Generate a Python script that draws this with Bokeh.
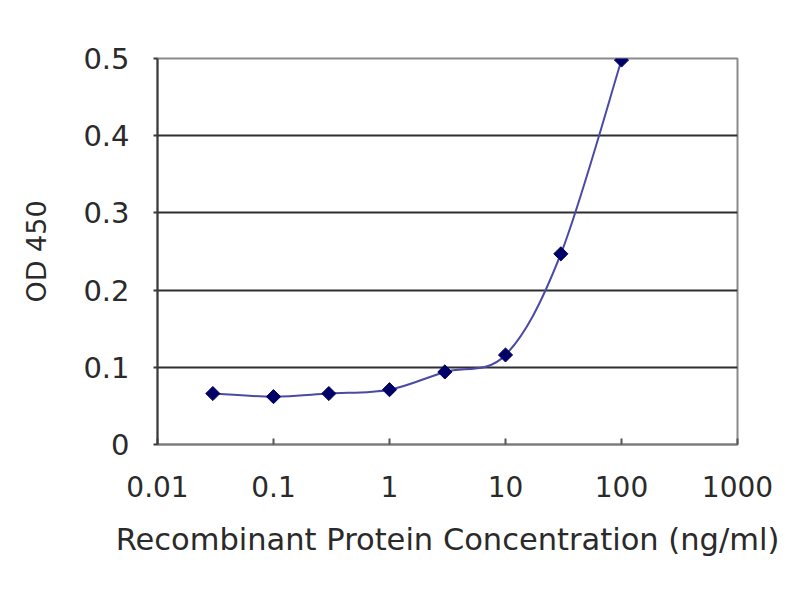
import numpy as np
from bokeh.plotting import figure
from bokeh.models import Range1d, FixedTicker, NumeralTickFormatter
from bokeh.embed import file_html
from bokeh.resources import INLINE

# data
concentration = [0.03, 0.1, 0.3, 1, 3, 10, 30, 100]
od450 = [0.066, 0.062, 0.066, 0.071, 0.094, 0.116, 0.247, 0.498]
x_ticks = [0.01, 0.1, 1, 10, 100, 1000]
y_ticks = [0, 0.1, 0.2, 0.3, 0.4, 0.5]
x_label = "Recombinant Protein Concentration (ng/ml)"
y_label = "OD 450"

FONT = "DejaVu Sans"
TEXT = "#2a2a2a"

p = figure(width=784, height=584, x_axis_type="log",
           x_range=Range1d(0.01, 1000), y_range=Range1d(0, 0.5),
           output_backend="svg", toolbar_location=None,
           frame_width=580, frame_height=386,
           min_border_left=157, min_border_right=47,
           min_border_top=58, min_border_bottom=140)
p.background_fill_color = "white"
p.border_fill_color = "white"
p.outline_line_color = "#8a8a8a"
p.outline_line_width = 2

# smooth (Excel-like) curve through the points: cubic bezier segments
lx = np.log10(np.array(concentration, dtype=float))
ly = np.array(od450, dtype=float)
n = len(lx)
x0, y0, x1, y1, cx0, cy0, cx1, cy1 = [], [], [], [], [], [], [], []
for i in range(n - 1):
    im1 = max(i - 1, 0)
    ip2 = min(i + 2, n - 1)
    x0.append(10 ** lx[i]); y0.append(ly[i])
    x1.append(10 ** lx[i + 1]); y1.append(ly[i + 1])
    cx0.append(10 ** (lx[i] + (lx[i + 1] - lx[im1]) / 6.0))
    cy0.append(ly[i] + (ly[i + 1] - ly[im1]) / 6.0)
    cx1.append(10 ** (lx[i + 1] - (lx[ip2] - lx[i]) / 6.0))
    cy1.append(ly[i + 1] - (ly[ip2] - ly[i]) / 6.0)
p.bezier(x0=x0, y0=y0, x1=x1, y1=y1, cx0=cx0, cy0=cy0, cx1=cx1, cy1=cy1,
         line_color="#4a4aa6", line_width=2)

p.scatter(concentration, od450, marker="square", size=10, angle=np.pi / 4,
          fill_color="#000066", line_color="#000066")

# axes
xa = p.xaxis[0]
xa.ticker = FixedTicker(ticks=x_ticks, minor_ticks=[])
xa.formatter = NumeralTickFormatter(format="0.[00]")
xa.axis_label = x_label
xa.axis_line_color = "#7a7a7a"
xa.axis_line_width = 2
xa.major_tick_in = 6
xa.major_tick_out = 0
xa.major_tick_line_color = "#555555"
xa.major_tick_line_width = 2
xa.minor_tick_line_color = None
xa.major_label_standoff = 31
xa.axis_label_standoff = 22
xa.major_label_text_font = FONT
xa.major_label_text_font_size = "28px"
xa.major_label_text_color = TEXT
xa.axis_label_text_font = FONT
xa.axis_label_text_font_size = "30.5px"
xa.axis_label_text_font_style = "normal"
xa.axis_label_text_color = TEXT

ya = p.yaxis[0]
ya.ticker = FixedTicker(ticks=y_ticks, minor_ticks=[])
ya.formatter = NumeralTickFormatter(format="0.[0]")
ya.axis_label = y_label
ya.axis_line_color = "#3a3a3a"
ya.axis_line_width = 2
ya.major_tick_in = 0
ya.major_tick_out = 4
ya.major_tick_line_color = "#3a3a3a"
ya.major_tick_line_width = 2
ya.minor_tick_line_color = None
ya.major_label_standoff = 24
ya.axis_label_standoff = 28
ya.major_label_text_font = FONT
ya.major_label_text_font_size = "29px"
ya.major_label_text_color = TEXT
ya.axis_label_text_font = FONT
ya.axis_label_text_font_size = "27px"
ya.axis_label_text_font_style = "normal"
ya.axis_label_text_color = TEXT

# grid
p.xgrid.grid_line_color = None
p.ygrid.ticker = FixedTicker(ticks=y_ticks)
p.ygrid.grid_line_color = "#2e2e2e"
p.ygrid.grid_line_width = 2

open("out.html", "w").write(file_html(p, INLINE))
